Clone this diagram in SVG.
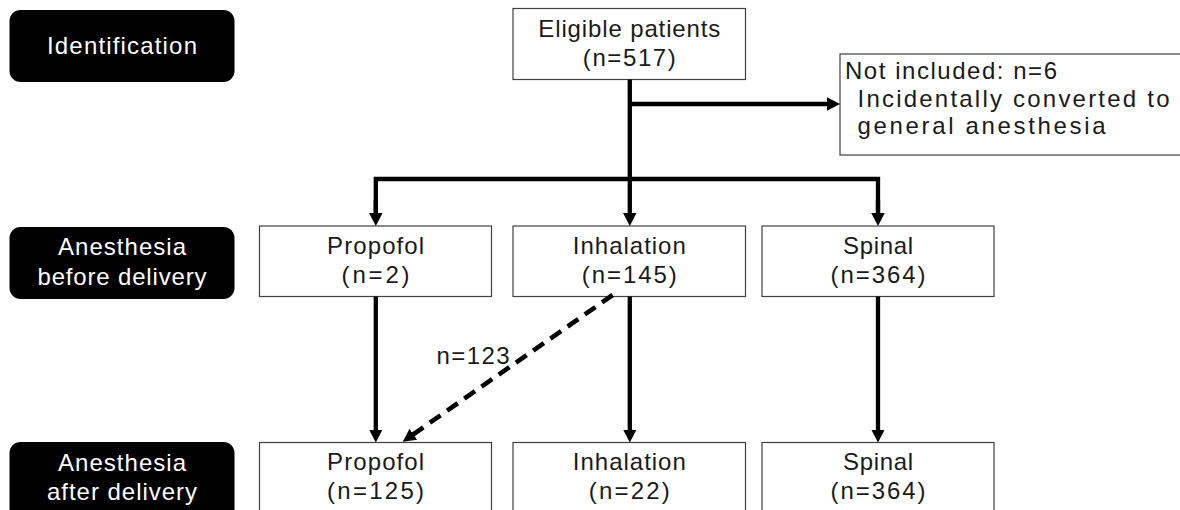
<svg xmlns="http://www.w3.org/2000/svg" width="1180" height="510" viewBox="0 0 1180 510">
<style>
  .stage rect { fill: #000; }
  .stage text { fill: #fff; }
  .node rect { fill: #fff; stroke: #404040; stroke-width: 1.2; }
  text { font-family: "Liberation Sans", Arial, sans-serif; font-size: 24px; fill: #1a1a1a; }
  .c { text-anchor: middle; }
  .conn { stroke: #000; stroke-width: 4.3; fill: none; }
  .dash { stroke-dasharray: 13 8; stroke-width: 4.6; }
</style>
<defs>
  <marker id="ah" markerUnits="userSpaceOnUse" markerWidth="16" markerHeight="16" refX="5" refY="6.75" orient="auto">
    <path d="M0,0 L13,6.75 L0,13.5 z" fill="#000"/>
  </marker>
</defs>
<rect width="1180" height="510" fill="#fff"/>

<g id="stage-identification" class="stage">
  <rect x="9.5" y="10" width="225" height="72" rx="11"/>
  <text class="c" x="122" y="54" textLength="150" lengthAdjust="spacing">Identification</text>
</g>
<g id="stage-before" class="stage">
  <rect x="9.5" y="227" width="225" height="72" rx="11"/>
  <text class="c" x="122" y="255" textLength="128" lengthAdjust="spacing">Anesthesia</text>
  <text class="c" x="122" y="285" textLength="169" lengthAdjust="spacing">before delivery</text>
</g>
<g id="stage-after" class="stage">
  <rect x="9.5" y="442" width="225" height="90" rx="11"/>
  <text class="c" x="122" y="471" textLength="128" lengthAdjust="spacing">Anesthesia</text>
  <text class="c" x="122" y="500" textLength="150" lengthAdjust="spacing">after delivery</text>
</g>

<g id="eligible" class="node">
  <rect x="513" y="8.5" width="232.5" height="71"/>
  <text class="c" x="629.3" y="37" textLength="182" lengthAdjust="spacing">Eligible patients</text>
  <text class="c" x="629.3" y="65.5" textLength="93" lengthAdjust="spacing">(n=517)</text>
</g>
<g id="not-included" class="node">
  <rect x="840" y="54" width="360" height="101"/>
  <text x="845" y="79" textLength="212" lengthAdjust="spacing">Not included: n=6</text>
  <text x="857.5" y="106.5" textLength="312" lengthAdjust="spacing">Incidentally converted to</text>
  <text x="857.5" y="134" textLength="248" lengthAdjust="spacing">general anesthesia</text>
</g>

<g id="propofol-before" class="node">
  <rect x="259.5" y="226" width="232" height="70.5"/>
  <text class="c" x="375.6" y="254" textLength="97" lengthAdjust="spacing">Propofol</text>
  <text class="c" x="375.6" y="283" textLength="68" lengthAdjust="spacing">(n=2)</text>
</g>
<g id="inhalation-before" class="node">
  <rect x="513" y="226" width="232.5" height="70.5"/>
  <text class="c" x="629.3" y="254" textLength="113" lengthAdjust="spacing">Inhalation</text>
  <text class="c" x="629.3" y="283" textLength="95" lengthAdjust="spacing">(n=145)</text>
</g>
<g id="spinal-before" class="node">
  <rect x="762" y="226" width="232" height="70.5"/>
  <text class="c" x="878" y="254" textLength="70" lengthAdjust="spacing">Spinal</text>
  <text class="c" x="878" y="283" textLength="95" lengthAdjust="spacing">(n=364)</text>
</g>

<g id="propofol-after" class="node">
  <rect x="259.5" y="442.5" width="232" height="90"/>
  <text class="c" x="375.6" y="470" textLength="97" lengthAdjust="spacing">Propofol</text>
  <text class="c" x="375.6" y="499" textLength="97" lengthAdjust="spacing">(n=125)</text>
</g>
<g id="inhalation-after" class="node">
  <rect x="513" y="442.5" width="232.5" height="90"/>
  <text class="c" x="629.3" y="470" textLength="113" lengthAdjust="spacing">Inhalation</text>
  <text class="c" x="629.3" y="499" textLength="81" lengthAdjust="spacing">(n=22)</text>
</g>
<g id="spinal-after" class="node">
  <rect x="762" y="442.5" width="232" height="90"/>
  <text class="c" x="878" y="470" textLength="70" lengthAdjust="spacing">Spinal</text>
  <text class="c" x="878" y="499" textLength="95" lengthAdjust="spacing">(n=364)</text>
</g>

<g id="connectors">
  <line class="conn" x1="629.8" y1="79.5" x2="629.8" y2="218" marker-end="url(#ah)"/>
  <line class="conn" x1="629.8" y1="104" x2="832" y2="104" marker-end="url(#ah)"/>
  <polyline class="conn" points="375.8,218 375.8,179 878,179 878,218"/>
  <line class="conn" x1="375.8" y1="200" x2="375.8" y2="218" marker-end="url(#ah)"/>
  <line class="conn" x1="878" y1="200" x2="878" y2="218" marker-end="url(#ah)"/>
  <line class="conn" x1="375.8" y1="296.5" x2="375.8" y2="434.5" marker-end="url(#ah)"/>
  <line class="conn" x1="629.8" y1="296.5" x2="629.8" y2="434.5" marker-end="url(#ah)"/>
  <line class="conn" x1="878" y1="296.5" x2="878" y2="434.5" marker-end="url(#ah)"/>
  <line class="conn dash" x1="612.7" y1="295" x2="409.3" y2="437.1" marker-end="url(#ah)"/>
  <text x="436.5" y="364" textLength="73" lengthAdjust="spacing">n=123</text>
</g>
</svg>
